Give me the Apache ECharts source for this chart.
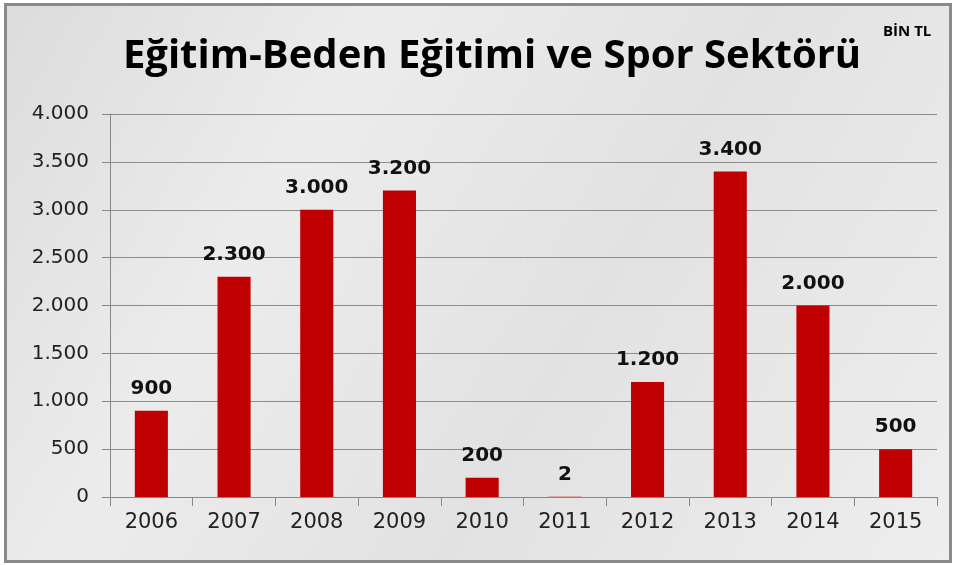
<!DOCTYPE html>
<html>
<head>
<meta charset="utf-8">
<script src="https://cdn.jsdelivr.net/npm/echarts@6/dist/echarts.min.js"></script>
<style>
  html, body { margin: 0; padding: 0; background: #fff; }
  #chart {
    position: absolute;
    left: 4px; top: 3px;
    width: 942px; height: 554px;
    border: 3px solid #8a8a8a;
  }
</style>
</head>
<body>
<div id="chart"></div>
<script>
// veriler (bin TL)
const years = ['2006', '2007', '2008', '2009', '2010', '2011', '2012', '2013', '2014', '2015']
const values = [900, 2300, 3000, 3200, 200, 2, 1200, 3400, 2000, 500]
const yTicks = [0, 500, 1000, 1500, 2000, 2500, 3000, 3500, 4000]

// 1.000 biçimi
function fmt (v) {
  return String(v).replace(/\B(?=(\d{3})+(?!\d))/g, '.')
}

const labelFont = '"DejaVu Sans", Verdana, sans-serif'
const titleFont = '"Open Sans", Lato, sans-serif'
const myChart = echarts.init(document.getElementById('chart'))
myChart.setOption({
  backgroundColor: new echarts.graphic.LinearGradient(0, 0, 1, 1, [
    { offset: 0, color: '#dcdcdc' },
    { offset: 0.3, color: '#ececec' },
    { offset: 0.6, color: '#e2e2e2' },
    { offset: 1, color: '#eeeeee' }
  ]),
  title: [
    {
      text: 'Eğitim-Beden Eğitimi ve Spor Sektörü',
      left: 480,
      top: 26,
      textAlign: 'center',
      textStyle: { fontFamily: titleFont, fontSize: 40, fontWeight: 'bold', color: '#000' }
    },
    {
      text: 'BİN TL',
      left: 871,
      top: 13,
      textStyle: { fontFamily: titleFont, fontSize: 15, fontWeight: 'bold', color: '#000' }
    }
  ],
  grid: {
    left: 103,
    right: 12,
    top: 108,
    bottom: 63
  },
  xAxis: {
    type: 'category',
    data: years,
    axisLine: { lineStyle: { color: '#888' } },
    axisTick: { show: true, length: 9, lineStyle: { color: '#888' } },
    axisLabel: { fontFamily: labelFont, fontSize: 21, color: '#222', margin: 15 }
  },
  yAxis: {
    type: 'value',
    min: 0,
    max: 4000,
    interval: 500,
    axisLine: { show: true, lineStyle: { color: '#888' } },
    axisTick: { show: true, length: 8, lineStyle: { color: '#888' } },
    splitLine: { lineStyle: { color: '#8c8c8c', width: 1 } },
    axisLabel: {
      fontFamily: labelFont,
      fontSize: 20,
      color: '#222',
      margin: 21,
      formatter: v => yTicks.includes(v) ? fmt(v) : ''
    }
  },
  series: [
    {
      type: 'bar',
      data: values,
      barWidth: '40%',
      itemStyle: { color: '#c00000' },
      label: {
        show: true,
        position: 'top',
        distance: 12,
        fontFamily: labelFont,
        fontSize: 20,
        fontWeight: 'bold',
        color: '#111',
        formatter: p => fmt(p.value)
      }
    }
  ]
})
</script>
</body>
</html>
